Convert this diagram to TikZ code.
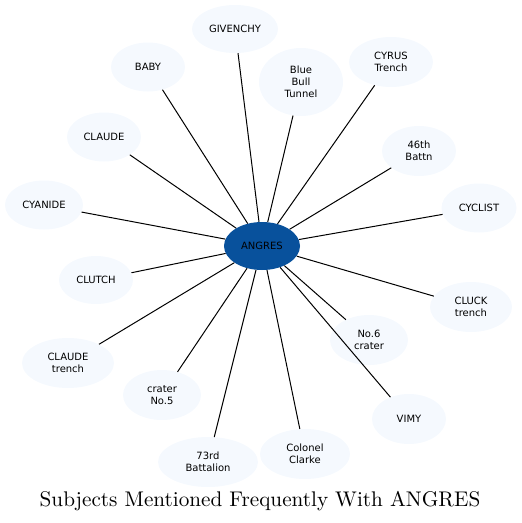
\documentclass[tikz,border=0pt]{standalone}
\usepackage{fontspec}
\newfontfamily\nodefont{DejaVu Sans}
\newfontfamily\titlefont[Extension=.otf]{lmroman10-regular}
\usetikzlibrary{shapes.geometric}
\definecolor{leaf}{HTML}{F5F9FE}
\definecolor{hub}{HTML}{08519C}
\tikzset{
  leafnode/.style={ellipse, fill=leaf, inner sep=0pt, align=center,
    font=\nodefont\fontsize{10}{12}\selectfont, text=black},
  hubnode/.style={ellipse, fill=hub, inner sep=0pt,
    font=\nodefont\fontsize{10}{12}\selectfont, text=black,
    minimum width=76pt, minimum height=48pt},
  link/.style={draw=black, line width=1pt}
}
\begin{document}
\begin{tikzpicture}[x=1pt,y=-1pt]
\useasboundingbox (0,0) rectangle (522,523);
\node[hubnode] (c) at (262,246) {ANGRES};
\node[leafnode, minimum width=86pt, minimum height=48pt] (givenchy) at (235,29) {GIVENCHY};
\node[leafnode, minimum width=74pt, minimum height=49pt] (baby) at (148,67) {BABY};
\node[leafnode, minimum width=74pt, minimum height=49pt] (claude) at (104,137) {CLAUDE};
\node[leafnode, minimum width=78pt, minimum height=49pt] (cyanide) at (44,205) {CYANIDE};
\node[leafnode, minimum width=84pt, minimum height=68pt] (bbt) at (301,82) {Blue\\Bull\\Tunnel};
\node[leafnode, minimum width=84pt, minimum height=50pt] (cyrus) at (391,62) {CYRUS\\Trench};
\node[leafnode, minimum width=74pt, minimum height=50pt] (batt46) at (419,151) {46th\\Battn};
\node[leafnode, minimum width=75pt, minimum height=49pt] (cyclist) at (479,208) {CYCLIST};
\node[leafnode, minimum width=74pt, minimum height=48pt] (clutch) at (96,280) {CLUTCH};
\node[leafnode, minimum width=92pt, minimum height=50pt] (claudetr) at (68,363) {CLAUDE\\trench};
\node[leafnode, minimum width=78pt, minimum height=50pt] (crater5) at (162,395) {crater\\No.5};
\node[leafnode, minimum width=100pt, minimum height=50pt] (bat73) at (208,462) {73rd\\Battalion};
\node[leafnode, minimum width=82pt, minimum height=50pt] (cluck) at (471,307) {CLUCK\\trench};
\node[leafnode, minimum width=78pt, minimum height=50pt] (crater6) at (369,340) {No.6\\crater};
\node[leafnode, minimum width=74pt, minimum height=50pt] (vimy) at (409,419) {VIMY};
\node[leafnode, minimum width=90pt, minimum height=50pt] (clarke) at (305,454) {Colonel\\Clarke};
\foreach \n in {givenchy,baby,claude,cyanide,bbt,cyrus,batt46,cyclist,clutch,claudetr,crater5,bat73,cluck,crater6,vimy,clarke}
  \draw[link] (c) -- (\n);
\node[font=\titlefont\fontsize{21.2}{25}\selectfont] (title) at (260,501) {Subjects Mentioned Frequently With ANGRES};
\end{tikzpicture}
\end{document}
